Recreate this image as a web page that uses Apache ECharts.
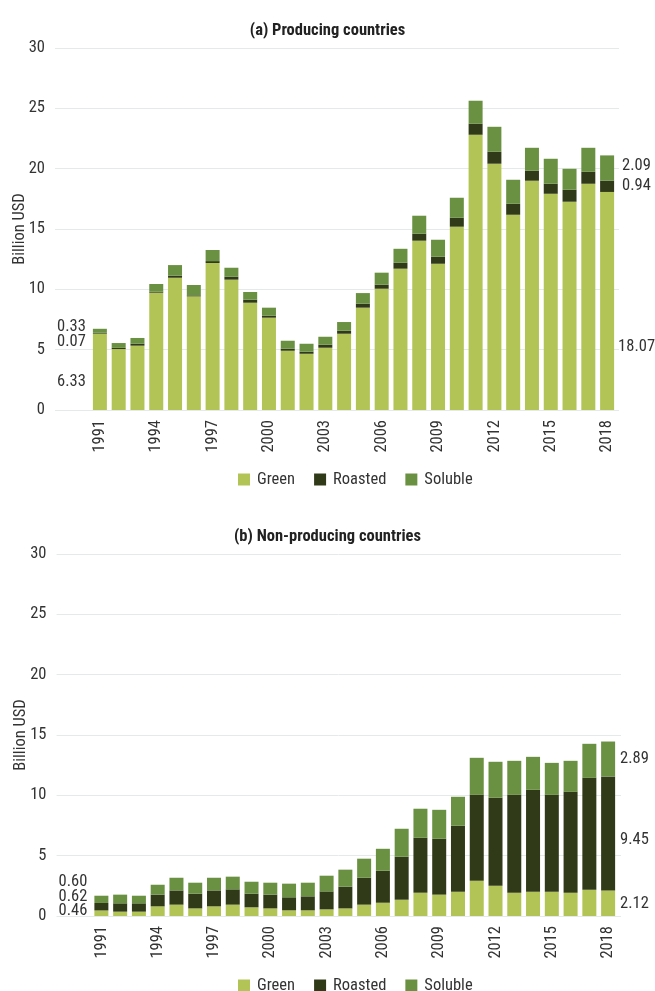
<!DOCTYPE html>
<html>
<head>
<meta charset="utf-8">
<script src="https://cdn.jsdelivr.net/npm/echarts@6/dist/echarts.min.js"></script>
<style>
  html, body { margin: 0; padding: 0; background: #fff; }
  #main { width: 655px; height: 991px; }
</style>
</head>
<body>
<div id="main"></div>
<script>
// 数据源
const years = ['1991','1992','1993','1994','1995','1996','1997','1998','1999','2000',
  '2001','2002','2003','2004','2005','2006','2007','2008','2009','2010',
  '2011','2012','2013','2014','2015','2016','2017','2018']

// (a) producing countries, billion USD
const prodGreen   = [6.33, 5.05, 5.33, 9.72, 10.96, 9.42, 12.18, 10.80, 8.89, 7.65,
  4.91, 4.66, 5.16, 6.32, 8.48, 10.05, 11.71, 14.03, 12.12, 15.19,
  22.81, 20.41, 16.18, 19.00, 17.92, 17.26, 18.75, 18.07]
const prodRoasted = [0.07, 0.10, 0.16, 0.08, 0.17, 0.08, 0.16, 0.24, 0.25, 0.16,
  0.17, 0.17, 0.25, 0.25, 0.33, 0.33, 0.49, 0.58, 0.58, 0.74,
  0.91, 0.99, 0.91, 0.83, 0.83, 0.99, 0.99, 0.94]
const prodSoluble = [0.33, 0.40, 0.48, 0.64, 0.88, 0.86, 0.92, 0.75, 0.64, 0.67,
  0.66, 0.66, 0.66, 0.72, 0.88, 1.00, 1.16, 1.49, 1.41, 1.66,
  1.91, 2.07, 1.99, 1.90, 2.07, 1.74, 1.99, 2.09]

// (b) non-producing countries, billion USD
const nonGreen   = [0.46, 0.36, 0.36, 0.80, 0.94, 0.63, 0.80, 0.94, 0.72, 0.63,
  0.47, 0.47, 0.55, 0.63, 0.94, 1.10, 1.35, 1.93, 1.77, 2.01,
  2.92, 2.51, 1.93, 2.01, 2.01, 1.93, 2.18, 2.12]
const nonRoasted = [0.62, 0.69, 0.69, 0.97, 1.18, 1.22, 1.32, 1.27, 1.13, 1.14,
  1.08, 1.16, 1.49, 1.80, 2.23, 2.65, 3.56, 4.55, 4.63, 5.47,
  7.12, 7.29, 8.11, 8.45, 8.03, 8.36, 9.27, 9.45]
const nonSoluble = [0.60, 0.72, 0.63, 0.82, 1.05, 0.91, 1.05, 1.05, 0.99, 0.99,
  1.13, 1.13, 1.30, 1.41, 1.58, 1.82, 2.32, 2.41, 2.40, 2.40,
  3.07, 2.98, 2.82, 2.73, 2.65, 2.57, 2.82, 2.89]

const yTicks = [0, 5, 10, 15, 20, 25, 30]

const colors = { Green: '#b2c455', Roasted: '#303a18', Soluble: '#6a9141' }
const font = "'Roboto Condensed', 'Roboto', sans-serif"
const fontSize = 16.5
const textColor = '#333'
const gridColor = '#e4eaea'

const mychart = echarts.init(document.getElementById('main'))

// only the first and last bar carry value labels; offsets are [x, y] nudges
const withEndLabels = (values, firstOffset, lastOffset, lastDx) => {
  return values.map((v, i) => {
    if (i === 0) {
      return { value: v, label: { show: true, position: 'left', distance: 7, offset: firstOffset } }
    }
    if (i === values.length - 1) {
      return { value: v, label: { show: true, position: 'right', distance: lastDx, offset: lastOffset } }
    }
    return v
  })
}

const barSeries = (name, values, axisIdx, stack, firstOffset, lastOffset, lastDx) => ({
  name: name,
  type: 'bar',
  stack: stack,
  xAxisIndex: axisIdx,
  yAxisIndex: axisIdx,
  barWidth: 14,
  itemStyle: { color: colors[name] },
  label: {
    show: false,
    color: textColor,
    fontFamily: font,
    fontSize: fontSize,
    formatter: (p) => p.value.toFixed(2)
  },
  data: withEndLabels(values, firstOffset, lastOffset, lastDx)
})

const linesYAxis = (grid) => ({
  gridIndex: grid,
  type: 'value',
  min: yTicks[0],
  max: yTicks[yTicks.length - 1],
  interval: yTicks[1] - yTicks[0],
  name: 'Billion USD',
  nameLocation: 'middle',
  nameGap: 27,
  nameMoveOverlap: false,
  nameTextStyle: { color: textColor, fontFamily: font, fontSize: fontSize },
  axisLine: { show: false },
  axisTick: { show: false },
  axisLabel: { color: textColor, fontFamily: font, fontSize: fontSize, margin: 10 },
  splitLine: { lineStyle: { color: gridColor, width: 1 } }
})

const barsYAxis = (grid) => ({
  gridIndex: grid,
  type: 'value',
  min: yTicks[0],
  max: yTicks[yTicks.length - 1],
  interval: yTicks[1] - yTicks[0],
  show: false,
  splitLine: { show: false }
})

const catXAxis = (grid) => ({
  gridIndex: grid,
  type: 'category',
  data: years,
  axisLine: { lineStyle: { color: gridColor } },
  axisTick: { interval: 0, length: 6, lineStyle: { color: '#d8dfdf' } },
  axisLabel: {
    interval: 2,
    rotate: 90,
    margin: 10,
    color: textColor,
    fontFamily: font,
    fontSize: fontSize
  }
})

const hiddenXAxis = (grid) => ({ gridIndex: grid, type: 'value', min: 0, max: 1, show: false })

const legendItem = (top) => ({
  top: top,
  left: 233,
  itemWidth: 12,
  itemHeight: 12,
  itemGap: 19,
  icon: 'rect',
  data: ['Green', 'Roasted', 'Soluble'],
  textStyle: { color: textColor, fontFamily: font, fontSize: fontSize, padding: [0, 0, 0, 2] }
})

const option = {
  animation: false,
  backgroundColor: '#fff',
  title: [
    {
      text: '(a) Producing countries',
      left: 'center',
      top: 17,
      textStyle: { color: '#222', fontFamily: font, fontSize: 16.5, fontWeight: 'bold' }
    },
    {
      text: '(b) Non-producing countries',
      left: 'center',
      top: 523,
      textStyle: { color: '#222', fontFamily: font, fontSize: 16.5, fontWeight: 'bold' }
    }
  ],
  legend: [legendItem(466), legendItem(972)],
  grid: [
    { left: 55, right: 36, top: 48, height: 362 },
    { left: 90.5, right: 38.5, top: 48, height: 362 },
    { left: 56.5, right: 34, top: 554, height: 362 },
    { left: 92, right: 37.5, top: 554, height: 362 }
  ],
  xAxis: [hiddenXAxis(0), catXAxis(1), hiddenXAxis(2), catXAxis(3)],
  yAxis: [linesYAxis(0), barsYAxis(1), linesYAxis(2), barsYAxis(3)],
  series: [
    barSeries('Green', prodGreen, 1, 'a', [0, 10], [-4, 46], 8),
    barSeries('Roasted', prodRoasted, 1, 'a', [0, 9], [0, 0], 8),
    barSeries('Soluble', prodSoluble, 1, 'a', [0, -4], [0, -2], 8),
    barSeries('Green', nonGreen, 3, 'b', [0, -2], [0, 1], 5),
    barSeries('Roasted', nonRoasted, 3, 'b', [0, -10], [0, 6], 5),
    barSeries('Soluble', nonSoluble, 3, 'b', [0, -17], [0, 0], 5)
  ]
}

mychart.setOption(option)

window.addEventListener('resize', () => {
  mychart.resize()
})
</script>
</body>
</html>
